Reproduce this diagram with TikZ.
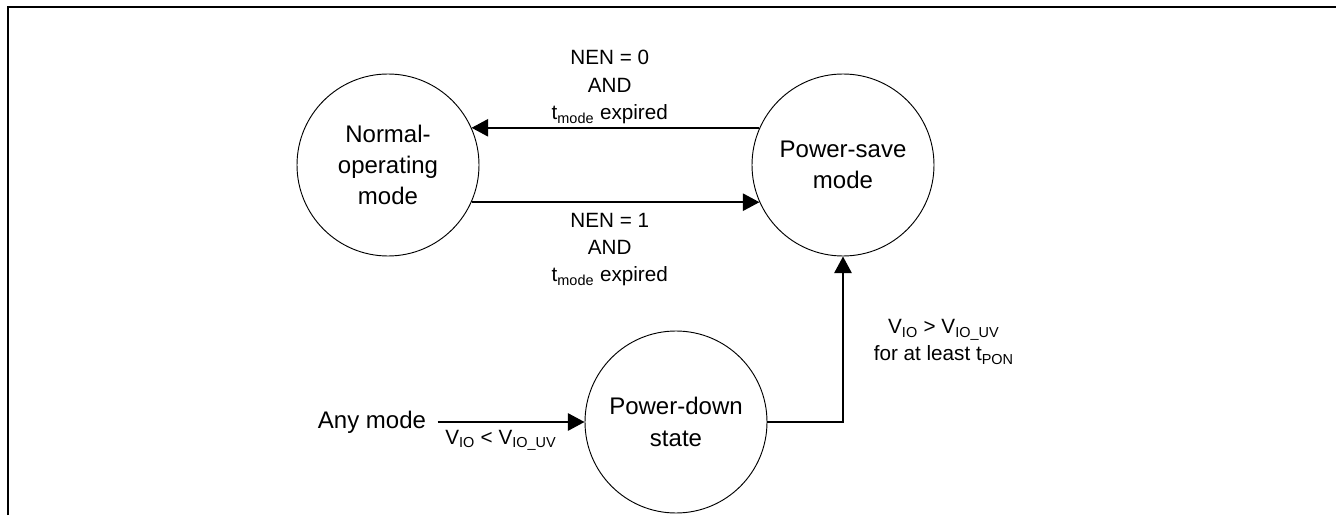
\documentclass[tikz,border=0pt]{standalone}
\usepackage{fontspec}
\setmainfont{Liberation Sans}
\usetikzlibrary{arrows.meta}

\begin{document}
\begin{tikzpicture}[x=0.75pt, y=0.75pt, line width=1.5pt,
  font=\fontsize{18}{23.5}\selectfont,
  state/.style={circle, draw, line width=0.7pt, minimum size=136.5pt,
    inner sep=0pt, align=center},
  trans/.style={-{Triangle[length=12.5pt, width=13pt]}},
  cond/.style={font=\fontsize{15.5}{20.5}\selectfont, align=center}]

  \useasboundingbox (0,0) rectangle (1336,515);
  % only the top and left edges of the surrounding frame are in the picture
  \draw[line width=0.9pt] (8,0) -- (8,508) -- (1336,508);

  % the three states, placed at the pixel centres of the original
  \node[state] (normal) at (388,350) {Normal-\\operating\\mode};
  \node[state] (save)   at (843,350) {Power-save\\mode};
  \node[state] (down)   at (676,93)  {Power-down\\state};
  \node[inner xsep=8pt] (any) at (372,93) {Any mode};

  % the two horizontal transitions leave the circles at the same height
  \draw[trans] (save.156) -- node[cond, above=-1pt, pos=0.52]
    {NEN = 0\\AND\\t\textsubscript{mode} expired} (normal.24);
  \draw[trans] (normal.-24) -- node[cond, below=4pt, pos=0.48]
    {NEN = 1\\AND\\t\textsubscript{mode} expired} (save.-156);

  \draw[trans] (any.east) -- node[cond, below=2pt, pos=0.43]
    {V\textsubscript{IO} < V\textsubscript{IO\_UV}} (down.west);
  \draw[trans] (down.east) -| node[cond, pos=0.75, right=19pt, yshift=-2pt]
    {V\textsubscript{IO} > V\textsubscript{IO\_UV}\\for at least t\textsubscript{PON}} (save.south);

\end{tikzpicture}
\end{document}
